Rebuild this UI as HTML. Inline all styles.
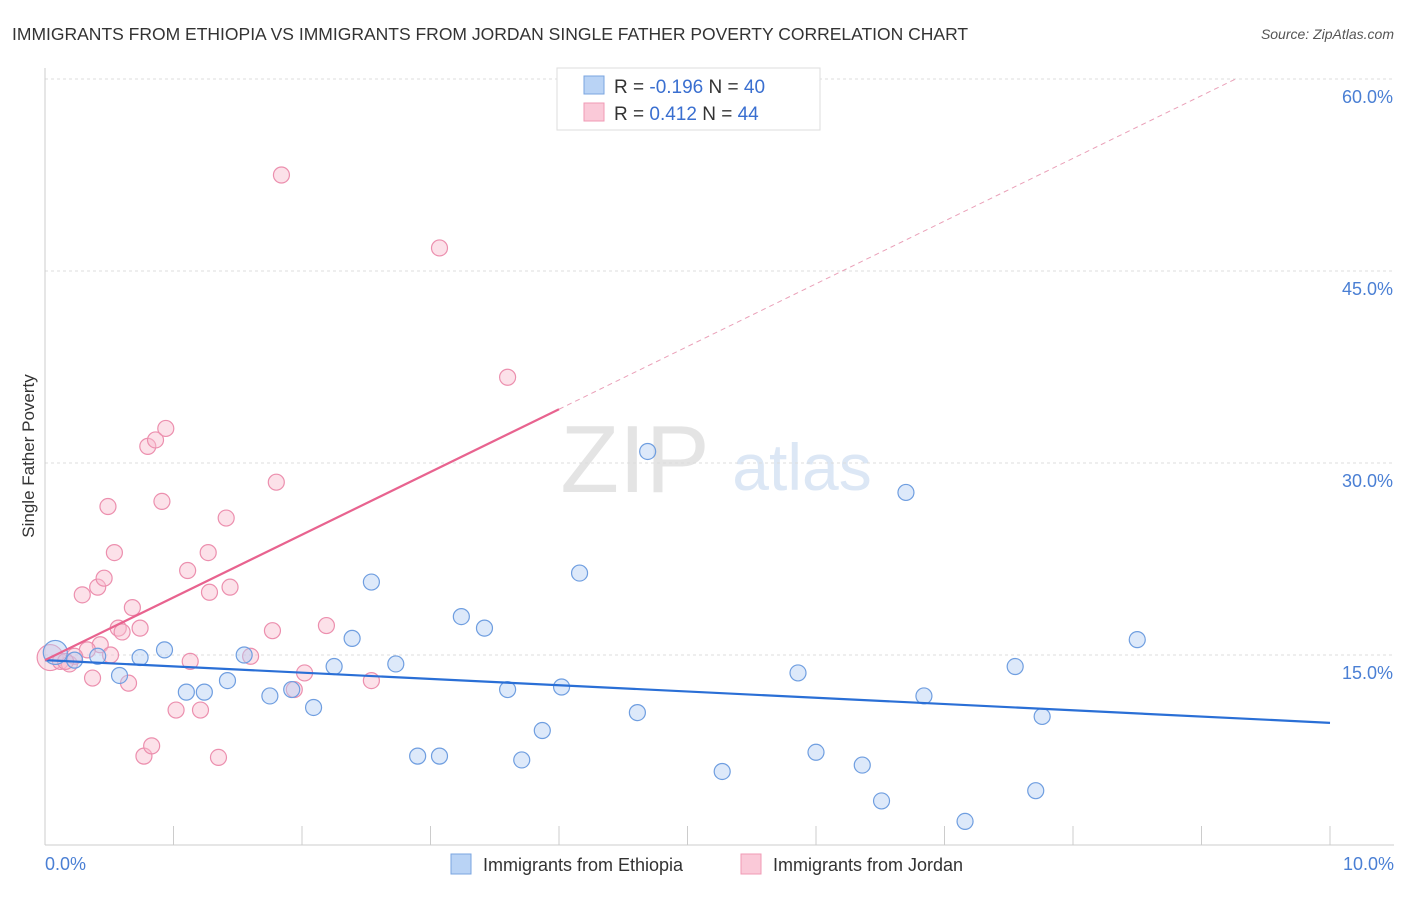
<!DOCTYPE html>
<html><head><meta charset="utf-8"><style>
body{margin:0;background:#fff;font-family:"Liberation Sans",sans-serif}
svg text{font-family:"Liberation Sans",sans-serif}
</style></head><body>
<svg id="c" width="1406" height="892">
<text x="12" y="40" font-size="17.5" fill="#333">IMMIGRANTS FROM ETHIOPIA VS IMMIGRANTS FROM JORDAN SINGLE FATHER POVERTY CORRELATION CHART</text>
<text x="1394" y="39" font-size="14" fill="#555" text-anchor="end" font-style="italic">Source: ZipAtlas.com</text>
<text x="635" y="492" font-size="96" fill="#e4e4e4" text-anchor="middle" font-family="Liberation Serif">ZIP</text>
<text x="802" y="490" font-size="66" fill="#dce7f5" text-anchor="middle">atlas</text>
<text transform="translate(34,456) rotate(-90)" font-size="17" fill="#333" text-anchor="middle">Single Father Poverty</text>
<g id="grid"></g><g id="marks"></g>
<g>
<rect x="557" y="68" width="263" height="62" fill="#fff" stroke="#ddd"/>
<rect x="584" y="76" width="20" height="18" fill="#b9d3f5" stroke="#7aa5e0"/>
<rect x="584" y="103" width="20" height="18" fill="#fac9d8" stroke="#f09ab5"/>
<text x="614" y="93" font-size="19" fill="#333">R = <tspan fill="#3a6fd0">-0.196</tspan>   N = <tspan fill="#3a6fd0">40</tspan></text>
<text x="614" y="120" font-size="19" fill="#333">R =  <tspan fill="#3a6fd0"> 0.412</tspan>   N = <tspan fill="#3a6fd0">44</tspan></text>
</g>
<g>
<rect x="451" y="854" width="20" height="20" fill="#b9d3f5" stroke="#7aa5e0"/>
<text x="483" y="871" font-size="18" fill="#333">Immigrants from Ethiopia</text>
<rect x="741" y="854" width="20" height="20" fill="#fac9d8" stroke="#f09ab5"/>
<text x="773" y="871" font-size="18" fill="#333">Immigrants from Jordan</text>
</g>
</svg>
<script>
const yTicks=[15,30,45,60];
const yTickLabels=["15.0%","30.0%","45.0%","60.0%"];
const blueX=[0.08,0.23,0.41,0.74,0.58,0.93,1.10,1.24,1.42,1.55,1.75,1.92,2.09,2.25,2.39,2.54,2.73,2.90,3.07,3.24,3.42,3.60,3.71,3.87,4.02,4.16,4.61,4.69,5.27,5.86,6.00,6.36,6.51,6.70,6.84,7.16,7.55,7.71,7.76,8.50];
const blueY=[15.2,14.6,14.9,14.8,13.4,15.4,12.1,12.1,13.0,15.0,11.8,12.3,10.9,14.1,16.3,20.7,14.3,7.1,7.1,18.0,17.1,12.3,6.8,9.1,12.5,21.4,10.5,30.9,5.9,13.6,7.4,6.4,3.6,27.7,11.8,2.0,14.1,4.4,10.2,16.2];
const pinkX=[0.04,0.12,0.19,0.29,0.37,0.41,0.46,0.49,0.54,0.65,0.68,0.57,0.60,0.74,0.77,0.80,0.83,0.86,0.91,0.94,1.02,1.11,1.13,1.21,1.27,1.28,1.35,1.41,1.44,1.60,1.77,1.80,1.84,1.94,2.02,2.19,2.54,3.07,3.60,0.43,0.33,0.23,0.16,0.51];
const pinkY=[14.8,14.5,14.3,19.7,13.2,20.3,21.0,26.6,23.0,12.8,18.7,17.1,16.8,17.1,7.1,31.3,7.9,31.8,27.0,32.7,10.7,21.6,14.5,10.7,23.0,19.9,7.0,25.7,20.3,14.9,16.9,28.5,52.5,12.3,13.6,17.3,13.0,46.8,36.7,15.8,15.4,14.9,14.5,15.0];
const blueFit=[14.6,9.7];
const pinkFit=[14.6,4.9];
const X=v=>45+v*128.5, Y=v=>847-v*12.8;
const NS="http://www.w3.org/2000/svg";
function mk(t,a,p){const e=document.createElementNS(NS,t);for(const k in a)e.setAttribute(k,a[k]);p.appendChild(e);return e;}
const g=document.getElementById('grid'),m=document.getElementById('marks');
yTicks.forEach((t,i)=>{
 const l=mk('line',{x1:45,x2:1394,y1:Y(t),y2:Y(t),stroke:'#ddd','stroke-dasharray':'3,3'},g);
 
 
 const tx=mk('text',{x:1393,y:Y(t)+24,'font-size':18,fill:'#4a7fd4','text-anchor':'end'},g);
 tx.textContent=yTickLabels[i];
 
 
});
const ax=mk('line',{x1:45,x2:45,y1:68,y2:845,stroke:'#ccc'},g);


const bx=mk('line',{x1:45,x2:1394,y1:845,y2:845,stroke:'#ccc'},g);


for(let i=0;i<=10;i++){const t=mk('line',{x1:X(i),x2:X(i),y1:826,y2:845,stroke:'#ccc'},g);
 
 }
const x0=mk('text',{x:45,y:870,'font-size':18,fill:'#4a7fd4'},g);x0.textContent='0.0%';


const x1=mk('text',{x:1394,y:870,'font-size':18,fill:'#4a7fd4','text-anchor':'end'},g);x1.textContent='10.0%';


function dot(x,y,fill,stroke,r,name){const c=mk('circle',{cx:X(x),cy:Y(y),r:r,fill:fill,'fill-opacity':0.45,stroke:stroke,'stroke-width':1.2},m);
 
 }
pinkX.forEach((x,i)=>dot(x,pinkY[i],'#f8bccf','#ec8fae',i==0?13:8,'jordan-point'));
blueX.forEach((x,i)=>dot(x,blueY[i],'#b3cff3','#6f9ee0',i==0?12:8,'ethiopia-point'));
const bl=mk('line',{x1:X(0),y1:Y(blueFit[0]),x2:X(10),y2:Y(blueFit[1]),stroke:'#2a6fd6','stroke-width':2.2},m);


const xs=4.0, xe=(60-pinkFit[0])/pinkFit[1];
const pl=mk('line',{x1:X(0),y1:Y(pinkFit[0]),x2:X(xs),y2:Y(pinkFit[0]+pinkFit[1]*xs),stroke:'#e8638f','stroke-width':2.2},m);


const pd=mk('line',{x1:X(xs),y1:Y(pinkFit[0]+pinkFit[1]*xs),x2:X(xe),y2:Y(60),stroke:'#eaa0b8','stroke-width':1,'stroke-dasharray':'5,4'},m);


</script>
</body></html>
